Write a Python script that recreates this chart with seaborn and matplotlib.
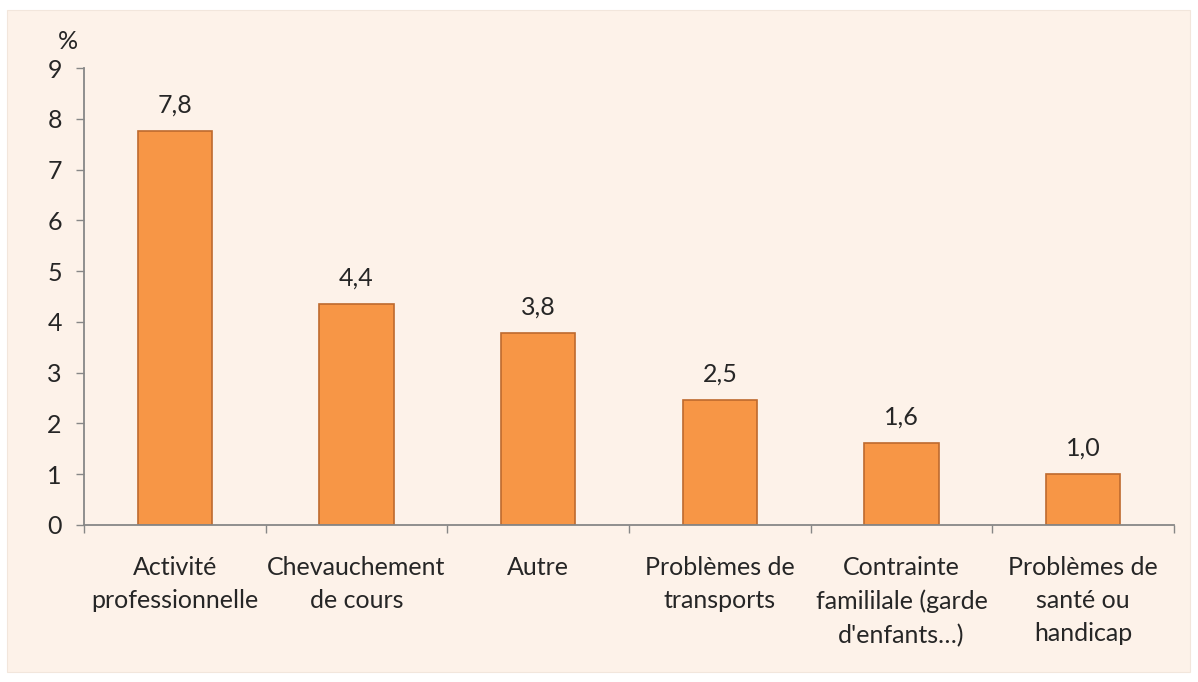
import numpy as np
import pandas as pd
import matplotlib
matplotlib.use("Agg")
import matplotlib.pyplot as plt
from matplotlib.patches import Rectangle
import seaborn as sns

sns.set_style("white")
plt.rcParams['font.family'] = ['Lato', 'DejaVu Sans']

categories = ["Activité\nprofessionnelle", "Chevauchement\nde cours", "Autre",
              "Problèmes de\ntransports", "Contrainte\nfamililale (garde\nd'enfants…)",
              "Problèmes de\nsanté ou\nhandicap"]
values = [7.76, 4.36, 3.79, 2.47, 1.62, 1.01]
value_labels = ["7,8", "4,4", "3,8", "2,5", "1,6", "1,0"]

bg = "#FDF2E9"
axis_col = "#878787"
fs = 18

fig = plt.figure(figsize=(11.98, 6.82), dpi=100)
fig.patch.set_facecolor("white")
fig.patches.append(Rectangle((7 / 1198, 10 / 682), 1183 / 1198, 662 / 682,
                             transform=fig.transFigure, facecolor=bg,
                             edgecolor="#F2E6DC", linewidth=0.8, zorder=-10))
ax = fig.add_axes([84 / 1198, 157 / 682, 1090 / 1198, 457 / 682])
ax.set_facecolor("none")

df = pd.DataFrame({"cat": categories, "val": values})
sns.barplot(data=df, x="cat", y="val", color="#F79646", width=0.41,
            edgecolor="#BE6A2E", linewidth=1.2, saturation=1, ax=ax)

for p, lab in zip(ax.patches, value_labels):
    ax.annotate(lab, (p.get_x() + p.get_width() / 2, p.get_height()),
                xytext=(0, 10), textcoords="offset points",
                ha="center", va="bottom", fontsize=fs)

ax.set_xlim(-0.5, 5.5)
ax.set_ylim(0, 9)
ax.set_yticks(np.arange(0, 10, 1))
ax.set_xlabel("")
ax.set_ylabel("")

ax.tick_params(axis="y", length=6, width=1, color=axis_col, direction="out",
               labelsize=fs, pad=10, left=True)
ax.tick_params(axis="x", which="major", length=0, labelsize=fs, pad=22)
ax.set_xticks(np.arange(-0.5, 6, 1), minor=True)
ax.tick_params(axis="x", which="minor", length=6, width=1, color=axis_col,
               direction="out", bottom=True)
for lab in ax.get_xticklabels():
    lab.set_linespacing(1.55)

for s in ["top", "right"]:
    ax.spines[s].set_visible(False)
for s in ["left", "bottom"]:
    ax.spines[s].set_color(axis_col)
    ax.spines[s].set_linewidth(1.3)

ax.text(-0.015, 1.057, "%", transform=ax.transAxes, fontsize=fs,
        ha="center", va="center")

fig.savefig("out.png", dpi=100, facecolor="white")
